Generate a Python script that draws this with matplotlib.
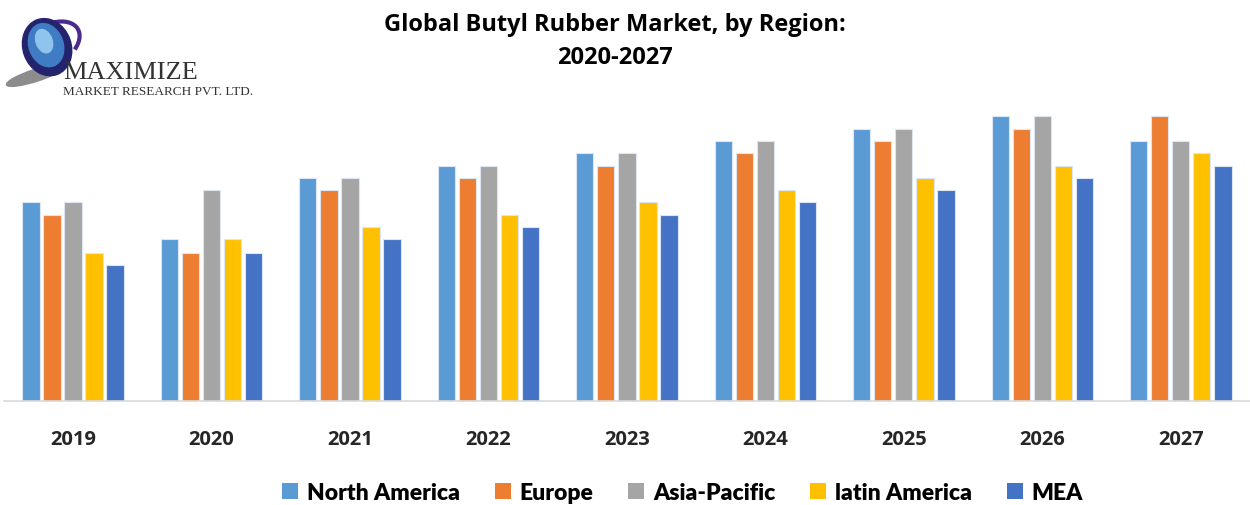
import numpy as np
import matplotlib.pyplot as plt
from matplotlib.patches import Patch, Ellipse, Arc

years = ["2019", "2020", "2021", "2022", "2023", "2024", "2025", "2026", "2027"]
regions = ["North America", "Europe", "Asia-Pacific", "latin America", "MEA"]

north_america = [19.9, 16.2, 22.3, 23.5, 24.8, 26.0, 27.2, 28.5, 26.0]
europe        = [18.6, 14.8, 21.1, 22.3, 23.5, 24.8, 26.0, 27.2, 28.5]
asia_pacific  = [19.9, 21.1, 22.3, 23.5, 24.8, 26.0, 27.2, 28.5, 26.0]
latin_america = [14.8, 16.2, 17.4, 18.6, 19.9, 21.1, 22.3, 23.5, 24.8]
mea           = [13.6, 14.8, 16.2, 17.4, 18.6, 19.9, 21.1, 22.3, 23.5]

colors = ["#5B9BD5", "#ED7D31", "#A5A5A5", "#FFC000", "#4472C4"]
series = [north_america, europe, asia_pacific, latin_america, mea]

fig = plt.figure(figsize=(12.5, 5.06), dpi=100)
ax = fig.add_axes([0.003, 0.2055, 0.997, 0.597])

x = np.arange(len(years))
width = 0.125
step = 0.152
for i, (vals, c) in enumerate(zip(series, colors)):
    ax.bar(x + (i - 2) * step, vals, width, color=c, edgecolor="#dce6f2",
           linewidth=0.8, label=regions[i])

ax.set_xlim(-0.5, len(years) - 0.5)
ax.set_ylim(0, 30.2)
for s in ["top", "right", "left"]:
    ax.spines[s].set_visible(False)
ax.spines["bottom"].set_color("#d9d9d9")
ax.spines["bottom"].set_linewidth(1.2)
ax.set_yticks([])
ax.set_xticks(x)
ax.set_xticklabels(years, fontsize=14.5, fontweight="bold", family="Open Sans",
                   color="#262626")
ax.tick_params(axis="x", length=0, pad=20)

fig.text(0.492, 0.918, "Global Butyl Rubber Market, by Region:\n2020-2027",
         ha="center", va="center", fontsize=17, fontweight="bold",
         family="Open Sans", linespacing=1.45)

handles = [Patch(facecolor=c, edgecolor="none") for c in colors]
fig.legend(handles, regions, loc="center", bbox_to_anchor=(0.546, 0.024),
           ncol=5, frameon=False, handlelength=0.7, handleheight=0.7,
           handletextpad=0.4, columnspacing=1.5,
           prop={"family": "Lato", "weight": "heavy", "size": 16.5})

# logo
logo = fig.add_axes([0.0, 0.78, 0.23, 0.22])
logo.set_xlim(0, 287)
logo.set_ylim(111, 0)
logo.axis("off")
logo.add_patch(Ellipse((36, 76), 62, 12, angle=-18, color="#8c8c8c"))
logo.add_patch(Arc((50, 46), 64, 40, angle=-30, theta1=300, theta2=40,
                   color="#4b2a8c", lw=3))
logo.add_patch(Ellipse((47, 48), 48, 58, angle=-20, color="#24246e"))
logo.add_patch(Ellipse((46, 46), 34, 44, angle=-20, color="#3f7cc4"))
logo.add_patch(Ellipse((44, 42), 16, 24, angle=-20, color="#8fc4ec"))
logo.text(63, 73, "MAXIMIZE", fontsize=19, family="Liberation Serif",
          color="#333333", va="center", ha="left")
logo.text(63, 92, "MARKET RESEARCH PVT. LTD.", fontsize=9.5,
          family="Liberation Serif", color="#333333", va="center", ha="left")

fig.savefig("out.png", dpi=100)
